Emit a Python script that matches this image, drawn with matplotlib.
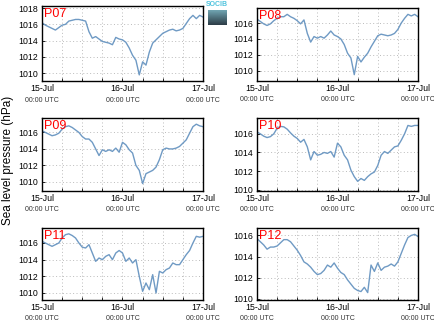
import numpy as np
import matplotlib
matplotlib.use("Agg")
import matplotlib.pyplot as plt

plt.rcParams['font.family'] = ['Liberation Sans', 'DejaVu Sans']

# hours since 15-Jul 00:00 UTC
hours = list(range(49))

p07 = [1016.2, 1015.9, 1015.7, 1015.5, 1015.3, 1015.6, 1015.9, 1016.0, 1016.4, 1016.5,
       1016.6, 1016.6, 1016.5, 1016.4, 1015.1, 1014.3, 1014.5, 1014.2, 1013.9, 1013.8,
       1013.7, 1013.5, 1014.4, 1014.2, 1014.1, 1013.8, 1013.1, 1012.2, 1011.6, 1009.8,
       1011.4, 1011.0, 1012.6, 1013.7, 1014.1, 1014.5, 1014.9, 1015.1, 1015.3, 1015.4,
       1015.2, 1015.3, 1015.5, 1016.1, 1016.7, 1017.1, 1016.7, 1017.1, 1016.9]
p08 = [1016.5, 1016.2, 1015.9, 1015.7, 1015.9, 1016.3, 1016.6, 1016.8, 1016.8, 1017.1,
       1016.8, 1016.6, 1016.3, 1015.9, 1016.4, 1014.7, 1013.6, 1014.3, 1014.1, 1014.3,
       1014.1, 1014.5, 1015.0, 1014.5, 1014.3, 1014.0, 1013.3, 1012.2, 1011.6, 1009.5,
       1011.8, 1011.1, 1011.7, 1012.2, 1013.0, 1013.7, 1014.4, 1014.6, 1014.5, 1014.4,
       1014.5, 1014.7, 1015.2, 1016.0, 1016.6, 1017.1, 1016.9, 1017.1, 1016.8]
p09 = [1016.2, 1016.0, 1015.8, 1015.6, 1015.7, 1015.9, 1016.4, 1016.7, 1016.8, 1016.6,
       1016.3, 1016.0, 1015.5, 1015.2, 1015.2, 1014.8, 1014.0, 1013.2, 1013.9, 1013.7,
       1013.9, 1013.7, 1014.1, 1013.6, 1014.8, 1014.5, 1013.9, 1013.5, 1012.0, 1011.4,
       1009.8, 1011.0, 1011.2, 1011.4, 1011.8, 1012.7, 1013.9, 1014.1, 1014.0, 1014.0,
       1014.1, 1014.3, 1014.7, 1015.1, 1015.9, 1016.7, 1017.0, 1016.8, 1016.7]
p10 = [1016.2, 1016.0, 1015.75, 1015.6, 1015.7, 1016.0, 1016.6, 1016.8, 1016.75, 1016.5,
       1016.1, 1015.75, 1015.5, 1015.1, 1015.4, 1014.6, 1013.2, 1014.1, 1013.7, 1013.8,
       1014.0, 1013.9, 1014.1, 1013.5, 1015.0, 1014.6, 1013.7, 1013.2, 1012.1, 1011.4,
       1010.9, 1011.2, 1011.0, 1011.4, 1011.7, 1011.9, 1012.6, 1013.7, 1014.1, 1013.9,
       1014.25, 1014.6, 1014.7, 1015.3, 1016.0, 1016.9, 1016.8, 1016.9, 1016.9]
p11 = [1016.2, 1016.0, 1015.8, 1015.6, 1015.8, 1016.0, 1016.6, 1017.0, 1017.1, 1016.9,
       1016.6, 1016.0, 1015.5, 1015.4, 1015.8, 1014.8, 1013.8, 1014.2, 1014.0, 1014.4,
       1014.6, 1014.0, 1014.8, 1015.1, 1014.8, 1013.8, 1014.2, 1013.6, 1014.0, 1012.0,
       1010.2, 1011.2, 1010.4, 1012.2, 1010.0, 1012.6, 1012.4, 1012.8, 1013.0, 1013.6,
       1013.4, 1013.4, 1014.0, 1014.6, 1015.1, 1016.0, 1016.8, 1016.7, 1016.8]
p12 = [1015.7, 1015.4, 1015.1, 1014.7, 1014.9, 1014.9, 1015.0, 1015.3, 1015.6, 1015.6,
       1015.4, 1015.0, 1014.6, 1014.1, 1013.5, 1013.3, 1013.0, 1012.6, 1012.3, 1012.4,
       1012.7, 1013.2, 1013.0, 1013.4, 1012.9, 1012.5, 1012.3, 1011.8, 1011.4, 1011.0,
       1010.8, 1010.7, 1011.1, 1010.6, 1013.2, 1012.6, 1013.4, 1012.7, 1013.0, 1013.1,
       1013.3, 1013.1, 1013.5, 1014.3, 1015.1, 1015.8, 1016.0, 1016.1, 1015.9]

names = ["P07", "P08", "P09", "P10", "P11", "P12"]
series = [p07, p08, p09, p10, p11, p12]
ylims = [(1009.05, 1018.25), (1008.7, 1017.9), (1008.9, 1017.75),
         (1009.86, 1017.7), (1009.16, 1017.8), (1009.9, 1016.7)]
yticks = [[1010, 1012, 1014, 1016, 1018], [1010, 1012, 1014, 1016],
          [1010, 1012, 1014, 1016], [1010, 1012, 1014, 1016],
          [1010, 1012, 1014, 1016], [1010, 1012, 1014, 1016]]
day_labels = ["15-Jul", "16-Jul", "17-Jul"]

W, H = 435, 327
boxes = [(42, 6, 161, 75), (257, 8, 161, 73),
         (42, 118, 161, 73), (257, 118, 161, 73),
         (42, 228, 161, 72), (257, 228, 161, 72)]

fig = plt.figure(figsize=(W / 100, H / 100), dpi=100)
for name, vals, yl, yt, (x0, y0, w, h) in zip(names, series, ylims, yticks, boxes):
    ax = fig.add_axes([x0 / W, 1 - (y0 + h) / H, w / W, h / H])
    ax.plot(hours, vals, color="#6f9ac4", lw=1.0)
    ax.set_xlim(0, 48)
    ax.set_ylim(*yl)
    ax.set_xticks([0, 24, 48])
    ax.set_xticks(range(0, 49, 6), minor=True)
    ax.set_xticklabels(day_labels, fontsize=6.3)
    ax.set_yticks(yt)
    ax.set_yticklabels([str(v) for v in yt], fontsize=6.3)
    ax.tick_params(direction="in", length=2, width=0.6, pad=2.5)
    ax.tick_params(which="minor", direction="in", length=2, width=0.6)
    ax.grid(True, which="both", color="#bbbbbb", ls=(0, (1, 2.5)), lw=0.7)
    for s in ax.spines.values():
        s.set_linewidth(1.0)
    for xt in [0, 24, 48]:
        ax.text(xt, -0.26, "00:00 UTC", fontsize=5.0, ha="center", va="center",
                transform=ax.get_xaxis_transform(), color="#333333")
    ax.text(0.01, 0.97, name, color="red", fontsize=9, ha="left", va="top",
            transform=ax.transAxes)

fig.text(8 / W, 1 - 160 / H, "Sea level pressure (hPa)", rotation=90,
         fontsize=8.5, ha="center", va="center")

# small SOCIB logo
fig.text(217 / W, 1 - 5 / H, "SOCIB", color="#4fc3dd", fontsize=5,
         ha="center", va="center", fontweight="bold")
lax = fig.add_axes([208 / W, 1 - 25 / H, 19 / W, 15 / H])
lax.imshow(np.linspace(0, 1, 20).reshape(-1, 1), aspect="auto",
           cmap=matplotlib.colors.LinearSegmentedColormap.from_list("g", ["#6fa3b0", "#2e3e48"]))
lax.axis("off")

fig.savefig("out.png", dpi=100)
